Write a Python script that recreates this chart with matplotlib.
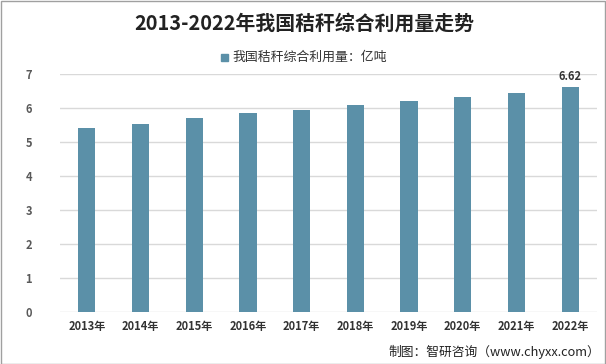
import matplotlib.pyplot as plt
from matplotlib.patches import Rectangle

plt.rcParams['font.family'] = ['Noto Sans CJK SC', 'DejaVu Sans']

years = ['2013年', '2014年', '2015年', '2016年', '2017年',
         '2018年', '2019年', '2020年', '2021年', '2022年']
values = [5.41, 5.53, 5.71, 5.85, 5.94, 6.09, 6.21, 6.32, 6.44, 6.62]
label_last = '6.62'

bar_color = '#5B90A8'

fig = plt.figure(figsize=(6.06, 3.64), dpi=100)
ax = fig.add_axes([60/606, 52/364, 537/606, 238/364])

x = range(len(years))
ax.bar(x, values, width=0.32, color=bar_color, zorder=3)
ax.text(x[-1], values[-1] + 0.12, label_last, ha='center', va='bottom',
        fontsize=8, fontweight='bold', color='#333333')

ax.set_xlim(-0.5, len(years) - 0.5)
ax.set_ylim(0, 7)
ax.set_yticks(range(0, 8))
ax.set_xticks(list(x))
ax.set_xticklabels(years, fontsize=8, fontweight='bold', color='#333333')
ax.tick_params(axis='y', labelsize=8, labelcolor='#595959', length=0, pad=20)
ax.tick_params(axis='x', length=0, pad=6)
for lab in ax.get_yticklabels():
    lab.set_fontweight('bold')
ax.grid(axis='y', color='#D9D9D9', linewidth=1, zorder=0)
for s in ax.spines.values():
    s.set_visible(False)

fig.text(304/606, 1 - 23/364, '2013-2022年我国秸秆综合利用量走势', ha='center', va='center',
         fontsize=14.3, fontweight='bold', color='#222222')

# legend
fig.patches.append(Rectangle((221/606, 1 - 61/364), 7/606, 7/364,
                             transform=fig.transFigure, color=bar_color))
fig.text(232/606, 1 - 57/364, '我国秸秆综合利用量：亿吨', ha='left', va='center',
         fontsize=9.3, color='#333333')

fig.text(600/606, 1 - 352/364, '制图：智研咨询（www.chyxx.com）', ha='right', va='center',
         fontsize=9.2, color='#222222')

# frame
fig.patches.append(Rectangle((0.5/606, 0.5/364), 1 - 1.5/606, 1 - 1.5/364,
                             transform=fig.transFigure, fill=False,
                             edgecolor='#A0A0A0', linewidth=1))

fig.savefig('out.png', dpi=100)
